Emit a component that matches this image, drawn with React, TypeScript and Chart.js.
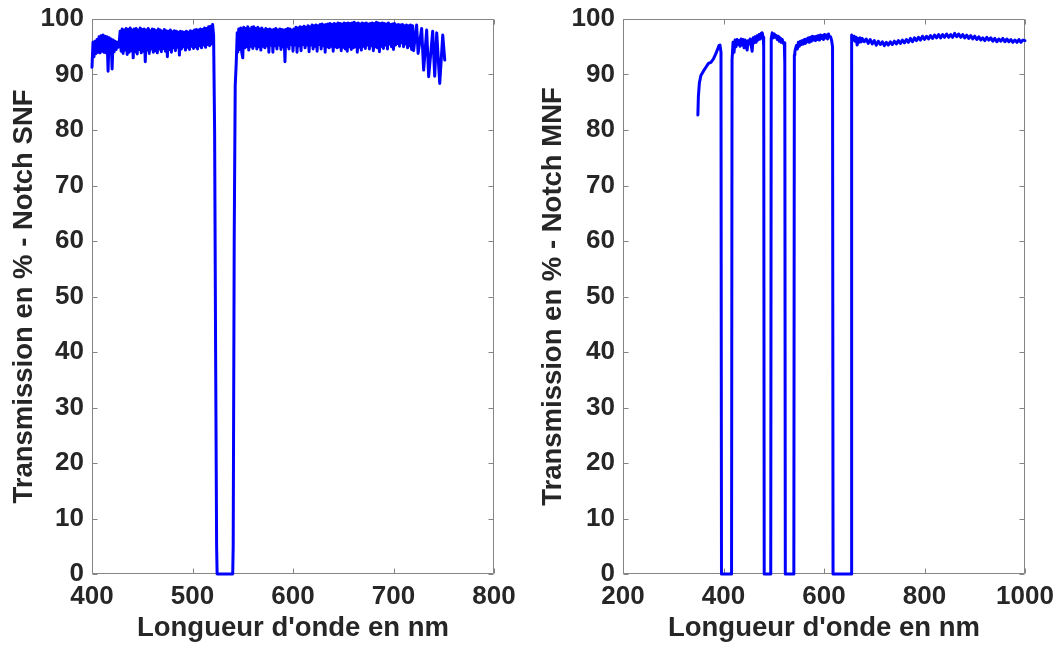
import React, { useEffect, useRef } from "react";
import { Chart, registerables } from "chart.js";
Chart.register(...registerables);

// ---------- Data ----------
// Left panel: Notch SNF
const snfWavelength = [
  400, 401, 402, 403, 404, 405, 406, 407, 408, 409, 410, 411, 412, 413, 414, 415, 416, 417, 418, 419,
  420, 421, 422, 423, 424, 425, 426, 427,
  428, 429, 430, 431, 432, 433, 434, 435, 436, 437, 438, 439, 440, 441, 442, 443, 444, 445, 446, 447,
  448, 449, 450, 451, 452, 453, 454, 455, 456, 457, 458, 459, 460, 461, 462, 463, 464, 465, 466, 467,
  468, 469, 470, 471, 472, 473, 474, 475, 476, 477, 478, 479, 480, 481, 482, 483, 484, 485, 486, 487,
  488, 489, 490, 491, 492, 493, 494, 495, 496, 497, 498, 499, 500, 501, 502, 503, 504, 505, 506, 507,
  508, 509, 510, 511, 512, 513, 514, 515, 516, 517, 518, 519, 520, 521, 522, 523, 524, 524.5,
  540, 540.5, 541.5, 542.5, 543.5, 544.5,
  545, 546, 547, 548, 549, 550, 551, 552, 553, 554, 555, 556, 557, 558, 559, 560, 561, 562, 563, 564,
  565, 566, 567, 568, 569, 570, 571, 572, 573, 574, 575, 576, 577, 578, 579, 580, 581, 582, 583, 584,
  585, 586, 587, 588, 589, 590, 591, 592, 593, 594, 595, 596, 597, 598, 599, 600, 601, 602, 603, 604,
  605, 606, 607, 608, 609, 610, 611, 612, 613, 614, 615, 616, 617, 618, 619, 620, 621, 622, 623, 624,
  625, 626, 627, 628, 629, 630, 631, 632, 633, 634, 635, 636, 637, 638, 639, 640, 641, 642, 643, 644,
  645, 646, 647, 648, 649, 650, 651, 652, 653, 654, 655, 656, 657, 658, 659, 660, 661, 662, 663, 664,
  665, 666, 667, 668, 669, 670, 671, 672, 673, 674, 675, 676, 677, 678, 679, 680, 681, 682, 683, 684,
  685, 686, 687, 688, 689, 690, 691, 692, 693, 694, 695, 696, 697, 698, 699, 700, 701, 702, 703, 704,
  705, 706, 707, 708, 709, 710, 711, 712, 713, 714, 715, 716, 717, 718, 719, 720,
  723, 724.5, 728, 730, 733, 735, 739, 741, 743, 746, 749, 751,
];
const snfTransmission = [
  91.3, 95.8, 93.2, 96.0, 93.8, 96.3, 94.0, 96.8, 93.9, 97.0, 94.2, 97.1, 94.0, 96.9, 93.9, 96.8, 90.6, 96.6, 94.0, 96.4,
  91.0, 96.2, 94.1, 96.0, 94.5, 95.8, 94.9, 95.6,
  97.8, 94.2, 98.2, 93.8, 98.0, 94.4, 98.3, 93.6, 98.1, 94.0, 98.4, 94.3, 98.0, 93.0, 98.2, 94.1, 98.3, 93.7, 98.0, 94.5,
  98.4, 93.9, 98.1, 94.2, 98.2, 92.3, 98.0, 94.4, 98.3, 93.8, 97.9, 94.6, 98.2, 94.0, 98.1, 94.3, 97.9, 93.9, 98.2, 94.6,
  98.0, 94.1, 97.8, 94.7, 98.1, 94.2, 97.9, 93.2, 97.8, 94.5, 98.0, 94.0, 97.7, 94.8, 97.9, 94.3, 97.8, 94.9, 97.6, 93.5,
  97.8, 94.6, 97.7, 95.0, 97.6, 94.4, 97.8, 94.9, 97.6, 94.5, 97.9, 95.1, 97.8, 94.7, 98.0, 95.0, 98.1, 94.6, 98.0, 95.2,
  98.2, 94.8, 98.1, 95.3, 98.4, 94.9, 98.3, 95.4, 98.6, 95.2, 98.7, 95.5, 99.0, 97.0, 80.0, 40.0, 5.0, 0,
  0, 5.0, 60.0, 88.0, 92.0, 97.5,
  94.0, 98.2, 94.5, 98.4, 94.0, 93.0, 98.5, 94.8, 98.3, 95.0, 98.6, 94.4, 98.2, 95.1, 98.5, 94.7, 98.6, 95.2, 98.3, 94.6,
  98.5, 95.0, 98.2, 94.4, 98.4, 95.1, 98.0, 94.8, 98.3, 95.2, 98.1, 94.0, 98.2, 95.3, 98.0, 94.0, 98.1, 95.2, 98.3, 94.6,
  98.0, 95.3, 98.2, 94.5, 98.1, 95.0, 98.0, 92.3, 98.1, 95.1, 98.3, 94.6, 98.2, 95.4, 98.0, 94.2, 98.2, 95.3, 98.5, 94.0,
  98.4, 95.2, 98.6, 94.3, 98.5, 95.4, 98.7, 94.8, 98.5, 95.3, 98.8, 94.1, 98.6, 95.3, 98.9, 94.6, 98.8, 95.1, 98.9, 94.2,
  98.8, 95.4, 99.0, 94.6, 99.1, 95.2, 98.9, 94.0, 99.0, 95.0, 99.1, 94.8, 99.2, 95.1, 99.0, 94.2, 99.2, 95.0, 99.1, 94.8,
  99.3, 95.0, 99.2, 94.3, 99.1, 94.9, 99.3, 94.6, 99.2, 94.2, 99.3, 95.0, 99.2, 94.5, 99.3, 94.8, 99.4, 95.0, 99.2, 94.0,
  99.3, 94.9, 99.1, 94.4, 99.3, 95.1, 99.2, 94.7, 99.3, 95.3, 99.1, 94.6, 99.2, 95.2, 99.3, 94.3, 99.2, 95.0, 99.4, 94.8,
  99.3, 94.1, 99.2, 95.1, 99.3, 94.7, 99.2, 95.3, 99.1, 94.6, 99.3, 95.5, 99.0, 95.0, 99.1, 94.5, 99.2, 95.3, 98.9, 95.6,
  99.0, 95.1, 98.9, 95.7, 99.0, 95.0, 98.8, 95.5, 98.9, 94.8, 98.8, 95.2, 98.9, 94.5, 98.8, 94.3,
  98.9, 93.8, 98.3, 90.8, 98.0, 89.6, 97.8, 89.7, 97.5, 88.4, 97.1, 92.6,
];

// Right panel: Notch MNF
const mnfWavelength = [
  349, 350, 352, 355, 360, 365, 370, 375, 380, 385, 388, 391, 393, 395, 396,
  416, 417, 419, 421, 423, 425, 427, 429, 431, 433, 435, 437, 439, 441, 443, 445, 447,
  449, 451, 453, 455, 457, 459, 461, 463, 465, 467, 469, 471, 473, 475, 477, 479, 480, 481,
  494, 495, 497, 499, 501, 503, 505, 507, 509, 511, 513, 515, 517, 519, 521, 522, 523,
  540, 541, 542, 543, 545, 547, 549, 551, 553, 555, 557, 559, 561, 563, 565, 567, 569, 571, 573,
  575, 577, 579, 581, 583, 585, 587, 589, 591, 593, 595, 597, 599, 601, 603, 605, 607, 609, 611,
  613, 615, 617, 618,
  654, 655, 656, 658, 660, 662, 664, 666, 668, 670, 672, 674, 676, 680, 684, 688, 692, 696, 700,
  704, 708, 712, 716, 720, 724, 728, 732, 736, 740, 744, 748, 752, 756, 760, 764, 768, 772, 776,
  780, 784, 788, 792, 796, 800, 804, 808, 812, 816, 820, 824, 828, 832, 836, 840, 844, 848, 852,
  856, 860, 864, 868, 872, 876, 880, 884, 888, 892, 896, 900, 904, 908, 912, 916, 920, 924, 928,
  932, 936, 940, 944, 948, 952, 956, 960, 964, 968, 972, 976, 980, 984, 988, 992, 996, 1000,
];
const mnfTransmission = [
  82.7, 86.0, 88.5, 89.8, 90.6, 91.3, 92.0, 92.2, 92.8, 93.8, 94.5, 95.2, 95.3, 94.0, 0,
  0, 92.6, 95.8, 94.0, 96.2, 95.0, 96.3, 95.4, 96.1, 95.1, 96.4, 95.3, 96.3, 94.8, 96.2, 95.4, 94.4,
  96.1, 95.5, 96.4, 95.3, 94.2, 96.6, 95.7, 96.8, 95.8, 97.0, 96.2, 97.2, 96.4, 97.4, 97.5, 96.7, 95.0, 0,
  0, 96.5, 97.5, 96.6, 97.3, 96.7, 97.0, 96.3, 96.9, 96.0, 96.6, 95.8, 96.3, 95.6, 95.7, 92.0, 0,
  0, 93.5, 94.1, 94.5, 95.2, 94.6, 95.8, 95.1, 96.0, 95.4, 96.1, 95.5, 96.3, 95.6, 96.4, 95.9, 96.6, 95.8, 96.7,
  96.0, 96.9, 96.2, 96.8, 96.1, 96.9, 96.3, 97.0, 96.2, 97.1, 96.5, 97.0, 96.3, 97.2, 96.6, 97.1, 96.4, 97.3, 96.8,
  96.8, 96.2, 95.0, 0,
  0, 97.1, 96.6, 96.2, 96.9, 96.0, 96.7, 95.3, 96.5, 95.8, 96.6, 95.9, 96.5, 95.9, 96.4, 95.6, 96.3, 95.5, 96.1,
  95.3, 96.0, 95.4, 95.9, 95.2, 95.8, 95.3, 95.9, 95.4, 96.0, 95.5, 96.1, 95.6, 96.2, 95.7, 96.3, 95.8, 96.5, 95.9,
  96.6, 96.1, 96.7, 96.2, 96.9, 96.3, 96.9, 96.4, 97.0, 96.5, 97.1, 96.6, 97.2, 96.6, 97.2, 96.7, 97.3, 96.7, 97.2,
  96.7, 97.4, 96.8, 97.3, 96.7, 97.2, 96.6, 97.1, 96.5, 97.0, 96.4, 96.9, 96.3, 96.8, 96.2, 96.6, 96.1, 96.7, 96.2,
  96.6, 96.0, 96.5, 95.9, 96.4, 96.0, 96.5, 95.9, 96.4, 95.9, 96.3, 95.8, 96.2, 95.8, 96.3, 95.8, 96.2, 96.1,
];

const yTickValues = [0, 10, 20, 30, 40, 50, 60, 70, 80, 90, 100];
const snfXTicks = [400, 500, 600, 700, 800];
const mnfXTicks = [200, 400, 600, 800, 1000];

const xTitle = "Longueur d'onde en nm";
const snfYTitle = "Transmission en % - Notch SNF";
const mnfYTitle = "Transmission en % - Notch MNF";

// ---------- Styling ----------
const TEXT = "#262626";
const FRAME = "#858585";
const FAMILY = "'Liberation Sans', Arial, Helvetica, sans-serif";

const boxPlugin = {
  id: "matlabBox",
  beforeDatasetsDraw(chart: any) {
    const { ctx, chartArea } = chart;
    const { left, right, top, bottom } = chartArea;
    const xs = chart.scales.x;
    const ys = chart.scales.y;
    const L = Math.round(left) + 0.5;
    const R = Math.round(right) - 0.5;
    const T = Math.round(top) + 0.5;
    const B = Math.round(bottom) - 0.5;
    ctx.save();
    ctx.strokeStyle = FRAME;
    ctx.lineWidth = 1;
    ctx.beginPath();
    ctx.rect(L, T, R - L, B - T);
    const tl = 5;
    xs.ticks.forEach((t: any) => {
      const p = Math.round(xs.getPixelForValue(t.value)) + 0.5;
      ctx.moveTo(p, B);
      ctx.lineTo(p, B - tl);
      ctx.moveTo(p, T);
      ctx.lineTo(p, T + tl);
    });
    ys.ticks.forEach((t: any) => {
      const p = Math.round(ys.getPixelForValue(t.value)) + 0.5;
      ctx.moveTo(L, p);
      ctx.lineTo(L + tl, p);
      ctx.moveTo(R, p);
      ctx.lineTo(R - tl, p);
    });
    ctx.stroke();
    ctx.restore();
  },
};

type PanelProps = {
  wl: number[];
  tr: number[];
  xMin: number;
  xMax: number;
  xTicks: number[];
  yTitle: string;
  yWidth: number;
  rightPad: number;
};

function Panel({ wl, tr, xMin, xMax, xTicks, yTitle, yWidth, rightPad }: PanelProps) {
  const ref = useRef<HTMLCanvasElement | null>(null);
  useEffect(() => {
    if (!ref.current) return;
    const tickFont = { family: FAMILY, size: 26, weight: "bold" as const };
    const titleFont = { family: FAMILY, size: 27.5, weight: "bold" as const };
    const chart = new Chart(ref.current, {
      type: "line",
      data: {
        datasets: [
          {
            data: wl.map((x, i) => ({ x, y: tr[i] })),
            borderColor: "#0000ff",
            borderWidth: 3,
            borderJoinStyle: "round",
            borderCapStyle: "round",
            pointRadius: 0,
            tension: 0,
            fill: false,
            clip: false as any,
          },
        ],
      },
      options: {
        animation: false,
        responsive: false,
        devicePixelRatio: 1,
        layout: { padding: { left: 0, right: rightPad, top: 19, bottom: 0 } },
        plugins: { legend: { display: false }, tooltip: { enabled: false } },
        scales: {
          x: {
            type: "linear",
            min: xMin,
            max: xMax,
            afterBuildTicks: (s: any) => {
              s.ticks = xTicks.map((v) => ({ value: v }));
            },
            afterFit: (s: any) => {
              s.height = 72;
              s.paddingLeft = 0;
              s.paddingRight = 0;
            },
            grid: { display: false, drawTicks: false },
            border: { display: false },
            ticks: {
              font: tickFont,
              color: TEXT,
              padding: 7,
              maxRotation: 0,
              autoSkip: false,
              callback: (v: any) => String(v),
            },
            title: {
              display: true,
              text: xTitle,
              font: titleFont,
              color: TEXT,
              padding: { top: 0, bottom: 1 },
            },
          },
          y: {
            type: "linear",
            min: 0,
            max: 100,
            afterBuildTicks: (s: any) => {
              s.ticks = yTickValues.map((v) => ({ value: v }));
            },
            afterFit: (s: any) => {
              s.width = yWidth;
              s.paddingTop = 0;
              s.paddingBottom = 0;
            },
            grid: { display: false, drawTicks: false },
            border: { display: false },
            ticks: { font: tickFont, color: TEXT, padding: 8, autoSkip: false, callback: (v: any) => String(v) },
            title: {
              display: true,
              text: yTitle,
              font: titleFont,
              color: TEXT,
              padding: { top: 8, bottom: 0 },
            },
          },
        },
      },
      plugins: [boxPlugin],
    });
    return () => chart.destroy();
  }, []);
  return <canvas ref={ref} width={529} height={646} style={{ display: "block", width: 529, height: 646 }} />;
}

export default function App() {
  return (
    <div style={{ position: "fixed", left: 0, top: 0, width: 1058, height: 646, background: "#fff", display: "flex" }}>
      <Panel wl={snfWavelength} tr={snfTransmission} xMin={400} xMax={800} xTicks={snfXTicks} yTitle={snfYTitle} yWidth={92} rightPad={35} />
      <Panel wl={mnfWavelength} tr={mnfTransmission} xMin={200} xMax={1000} xTicks={mnfXTicks} yTitle={mnfYTitle} yWidth={94} rightPad={33} />
    </div>
  );
}
